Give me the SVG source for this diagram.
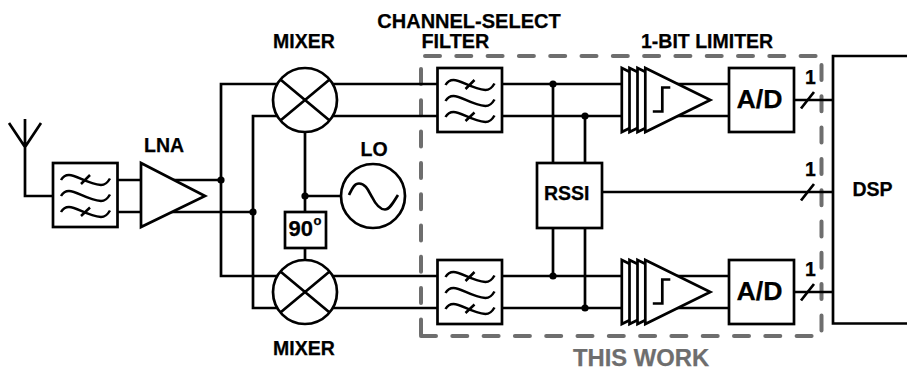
<svg xmlns="http://www.w3.org/2000/svg" xmlns:xlink="http://www.w3.org/1999/xlink" width="907" height="367" viewBox="0 0 907 367">
<style>
.l{fill:none;stroke:#000;stroke-width:2.7}
.b{fill:#fff;stroke:#000;stroke-width:2.7}
.w{fill:none;stroke:#000;stroke-width:2.5}
.d{fill:#000;stroke:none}
.t{font-family:"Liberation Sans",Arial,sans-serif;font-weight:700;fill:#000;stroke:#000;stroke-width:.25;font-size:19.5px}
.g{fill:none;stroke:#6e6e6e;stroke-width:4;stroke-linecap:round;stroke-dasharray:15 16.3}
</style>
<defs>
<path id="wave" class="w" d="M8,17 C10,13.500 13,12 16,12 C24,12 34,21 48,22 C52,22 55,19 57,15.500"/>
<g id="filt">
<rect class="b" x="0" y="0" width="64.500" height="64"/>
<use xlink:href="#wave" href="#wave"/>
<use xlink:href="#wave" href="#wave" y="16"/>
<use xlink:href="#wave" href="#wave" y="32"/>
<path class="w" d="M28,21 L37,12 M28,53 L37,44.500"/>
</g>
<g id="mix">
<circle class="b" cx="0" cy="0" r="32"/>
<path class="l" d="M-24,-20 L24,20 M-24,20 L24,-20"/>
</g>
<g id="lim">
<path class="b" d="M-23.500,-32 L41.500,0 L-23.500,32 Z"/>
<path class="b" d="M-15.800,-32 L49.200,0 L-15.800,32 Z"/>
<path class="b" d="M-7.800,-32 L57.200,0 L-7.800,32 Z"/>
<path class="b" d="M0,-32 L65,0 L0,32 Z"/>
<path class="l" d="M7.500,11.500 H17 V-12.500 H25"/>
</g>
</defs>
<g id="this-work">
<path class="g" d="M425,56 H817"/>
<path class="g" d="M821.500,65 V331"/>
<path class="g" d="M421,69 V336"/>
<path class="g" d="M421,336 H813"/>
<text class="t" x="573" y="365.500" style="font-size:23.800px;fill:#6e6e6e;stroke:#6e6e6e">THIS WORK</text>
</g>
<g id="connectors">
<path class="l" d="M9,123 L25,147 L41,123 M25,119 V196 H53"/>
<path class="l" d="M117,180 H221 M117,212 H253"/>
<path class="l" d="M437,84 H221 V276 H437 M437,116 H253 V308 H437"/>
<path class="l" d="M305,132 V260 M305,196 H341"/>
<path class="l" d="M502,84 H729 M502,116 H729 M502,276 H729 M502,308 H729"/>
<path class="l" d="M553,84 V276 M585,116 V308"/>
<path class="l" d="M794,100 H833 M602,192 H833 M794,292 H833"/>
<path class="l" d="M801,108.500 L814,92 M801,200.500 L814,184 M801,300.500 L814,284"/>
<circle class="d" cx="221" cy="180" r="3.600"/>
<circle class="d" cx="253" cy="212" r="3.600"/>
<circle class="d" cx="305" cy="196" r="3.600"/>
<circle class="d" cx="553" cy="84" r="3.600"/>
<circle class="d" cx="585" cy="116" r="3.600"/>
<circle class="d" cx="553" cy="276" r="3.600"/>
<circle class="d" cx="585" cy="308" r="3.600"/>
</g>
<g id="filter-rf"><use xlink:href="#filt" href="#filt" x="53" y="163"/></g>
<g id="lna"><path class="b" d="M141,163 L205,196 L141,227 Z"/><text class="t" x="144" y="152">LNA</text></g>
<g id="mixer-i"><use xlink:href="#mix" href="#mix" x="305" y="100"/><text class="t" x="273" y="48">MIXER</text></g>
<g id="mixer-q"><use xlink:href="#mix" href="#mix" x="305" y="292"/><text class="t" x="273" y="355">MIXER</text></g>
<g id="phase"><rect class="b" x="285" y="212" width="41" height="36"/><text class="t" x="288.500" y="236" style="font-size:22px">90</text><text class="t" x="313.500" y="225" style="font-size:13px">o</text></g>
<g id="lo"><circle class="b" cx="373" cy="196" r="32"/><path class="l" d="M349,195 C352,189 354,183.500 359,183.500 C366,183.500 369,192 372,197 C375,203 380,209.500 385,209.500 C390,209.500 394,201 398,195"/><text class="t" x="360.500" y="156">LO</text></g>
<g id="filter-i"><use xlink:href="#filt" href="#filt" x="437.500" y="68"/></g>
<g id="filter-q"><use xlink:href="#filt" href="#filt" x="437.500" y="260"/></g>
<g id="rssi"><rect class="b" x="537" y="163" width="65" height="65"/><text class="t" x="544" y="200">RSSI</text></g>
<g id="limiter-i"><use xlink:href="#lim" href="#lim" x="645.300" y="100"/></g>
<g id="limiter-q"><use xlink:href="#lim" href="#lim" x="645.300" y="292"/></g>
<g id="ad-i"><rect class="b" x="729" y="68" width="65" height="64"/><text class="t" x="736.500" y="108" style="font-size:26.700px">A/D</text></g>
<g id="ad-q"><rect class="b" x="729" y="260" width="65" height="64"/><text class="t" x="736.500" y="300" style="font-size:26.700px">A/D</text></g>
<g id="dsp"><path class="l" d="M907,56 H833 V323.500 H907"/><text class="t" x="852.500" y="196">DSP</text></g>
<g id="labels">
<text class="t" x="377.300" y="28" style="font-size:20px">CHANNEL-SELECT</text>
<text class="t" x="421.500" y="48" style="font-size:19.800px">FILTER</text>
<text class="t" x="641" y="47.500">1-BIT LIMITER</text>
<text class="t" x="805" y="84">1</text>
<text class="t" x="805" y="176">1</text>
<text class="t" x="805" y="276">1</text>
</g>
</svg>
